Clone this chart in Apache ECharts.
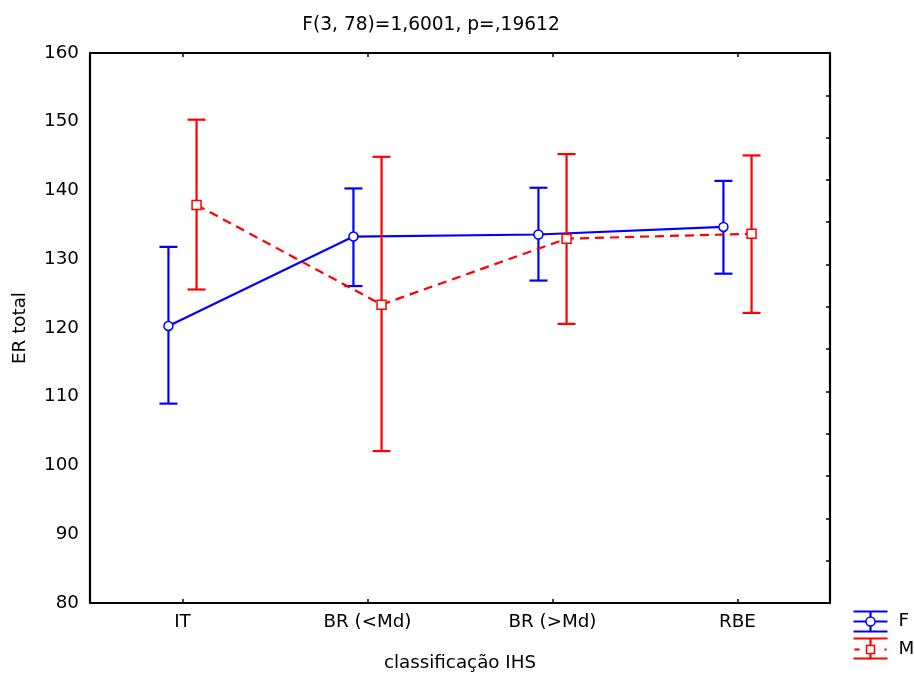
<!DOCTYPE html>
<html>
<head>
<meta charset="utf-8">
<script src="https://cdn.jsdelivr.net/npm/echarts@6/dist/echarts.min.js"></script>
<style>html,body{margin:0;padding:0;background:#fff;}#c{width:914px;height:677px;}</style>
</head>
<body>
<div id="c"></div>
<script>
const categories = ['IT', 'BR (<Md)', 'BR (>Md)', 'RBE'];
const fMean = [120.3, 133.3, 133.6, 134.7];
const fLow  = [109.0, 126.1, 126.9, 127.9];
const fHigh = [131.8, 140.3, 140.4, 141.4];
const mMean = [137.9, 123.4, 133.0, 133.7];
const mLow  = [125.6, 102.1, 120.6, 122.2];
const mHigh = [150.3, 144.9, 145.3, 145.1];
const yTicks = { min: 80, max: 160, interval: 10 };
const titleText = 'F(3, 78)=1,6001, p=,19612';
const xName = 'classificação IHS';
const yName = 'ER total';
const groupNames = ['F', 'M'];

const FONT = 'DejaVu Sans';
const FS = 18.3;
const BLUE = '#0000ff', RED = '#ff0000';
const GROUP_SHIFT = 0.076; // horizontal shift of each group within a category band

function xPos(i, g) { return i + (g === 0 ? -GROUP_SHIFT : GROUP_SHIFT); }

function errData(low, high, g) {
  return categories.map((c, i) => [xPos(i, g), low[i], high[i]]);
}
function lineData(mean, g) {
  return categories.map((c, i) => [xPos(i, g), mean[i]]);
}
function errRender(color) {
  return function (params, api) {
    const x = api.value(0);
    const lo = api.coord([x, api.value(1)]);
    const hi = api.coord([x, api.value(2)]);
    const half = 9;
    const st = { stroke: color, lineWidth: 2.2 };
    return {
      type: 'group',
      children: [
        { type: 'line', shape: { x1: lo[0], y1: lo[1], x2: hi[0], y2: hi[1] }, style: st },
        { type: 'line', shape: { x1: lo[0] - half, y1: lo[1], x2: lo[0] + half, y2: lo[1] }, style: st },
        { type: 'line', shape: { x1: hi[0] - half, y1: hi[1], x2: hi[0] + half, y2: hi[1] }, style: st }
      ]
    };
  };
}

const chart = echarts.init(document.getElementById('c'), null, { renderer: 'canvas' });
const axisLineStyle = { color: '#000', width: 2.2 };

chart.setOption({
  backgroundColor: '#fff',
  animation: false,
  title: {
    text: titleText,
    left: 426,
    top: 11,
    textAlign: 'center',
    textStyle: { fontFamily: FONT, fontSize: 18.6, fontWeight: 'normal', color: '#000' }
  },
  grid: { left: 90, right: 84, top: 53, bottom: 71, containLabel: false },
  xAxis: [
    {
      type: 'category', data: categories, position: 'bottom', boundaryGap: true,
      axisLine: { show: true, onZero: false, lineStyle: axisLineStyle },
      axisTick: { show: true, inside: true, alignWithLabel: true, length: 4, lineStyle: { color: '#000', width: 1.5 } },
      axisLabel: { fontFamily: FONT, fontSize: FS, color: '#000', margin: 10 },
      name: xName, nameLocation: 'middle', nameGap: 51,
      nameTextStyle: { fontFamily: FONT, fontSize: FS, color: '#000' },
      splitLine: { show: false }
    },
    {
      type: 'category', data: categories, position: 'top', boundaryGap: true,
      axisLine: { show: true, onZero: false, lineStyle: axisLineStyle },
      axisTick: { show: true, inside: true, alignWithLabel: true, length: 4, lineStyle: { color: '#000', width: 1.5 } },
      axisLabel: { show: false },
      splitLine: { show: false }
    },
    {
      type: 'value', min: -0.5, max: 3.5, show: false, splitLine: { show: false },
      axisLine: { show: false, onZero: false }
    }
  ],
  yAxis: [
    {
      type: 'value', position: 'left', min: yTicks.min, max: yTicks.max, interval: yTicks.interval,
      axisLine: { show: true, onZero: false, lineStyle: axisLineStyle },
      axisTick: { show: false },
      axisLabel: { fontFamily: FONT, fontSize: FS, color: '#000', margin: 11 },
      splitLine: { show: false },
      name: yName, nameLocation: 'middle', nameGap: 61, nameRotate: 90,
      nameTextStyle: { fontFamily: FONT, fontSize: FS, color: '#000' }
    },
    {
      type: 'value', position: 'right', min: 0, max: 13, interval: 1,
      axisLine: { show: true, onZero: false, lineStyle: axisLineStyle },
      axisTick: { show: true, inside: true, length: 4, lineStyle: { color: '#000', width: 1.5 } },
      axisLabel: { show: false },
      splitLine: { show: false }
    }
  ],
  series: [
    {
      name: 'F-err', type: 'custom', xAxisIndex: 2, yAxisIndex: 0,
      renderItem: errRender(BLUE), data: errData(fLow, fHigh, 0), z: 2,
      encode: { x: 0, y: [1, 2] }, silent: true
    },
    {
      name: groupNames[0], type: 'line', xAxisIndex: 2, yAxisIndex: 0,
      data: lineData(fMean, 0), z: 3,
      lineStyle: { color: BLUE, width: 2.2 },
      symbol: 'circle', symbolSize: 9,
      itemStyle: { color: '#fff', borderColor: BLUE, borderWidth: 1.5 }
    },
    {
      name: 'M-err', type: 'custom', xAxisIndex: 2, yAxisIndex: 0,
      renderItem: errRender(RED), data: errData(mLow, mHigh, 1), z: 4,
      encode: { x: 0, y: [1, 2] }, silent: true
    },
    {
      name: groupNames[1], type: 'line', xAxisIndex: 2, yAxisIndex: 0,
      data: lineData(mMean, 1), z: 5,
      lineStyle: { color: RED, width: 2.2, type: [9, 6] },
      symbol: 'rect', symbolSize: 9,
      itemStyle: { color: '#fff', borderColor: RED, borderWidth: 1.5 }
    }
  ],
  graphic: [
    {
      type: 'group', left: 851, top: 609,
      children: [
        { type: 'line', shape: { x1: 0, y1: 1, x2: 34, y2: 1 }, style: { stroke: BLUE, lineWidth: 2.2 } },
        { type: 'line', shape: { x1: 0, y1: 11, x2: 34, y2: 11 }, style: { stroke: BLUE, lineWidth: 2.2 } },
        { type: 'line', shape: { x1: 0, y1: 21, x2: 34, y2: 21 }, style: { stroke: BLUE, lineWidth: 2.2 } },
        { type: 'line', shape: { x1: 17, y1: 1, x2: 17, y2: 21 }, style: { stroke: BLUE, lineWidth: 2.2 } },
        { type: 'circle', shape: { cx: 17, cy: 11, r: 4.5 }, style: { fill: '#fff', stroke: BLUE, lineWidth: 1.5 } },
        { type: 'text', x: 45, y: 11, style: { text: groupNames[0], fontFamily: FONT, fontSize: FS, fill: '#000', verticalAlign: 'middle' } },

        { type: 'line', shape: { x1: 0, y1: 28, x2: 34, y2: 28 }, style: { stroke: RED, lineWidth: 2.2 } },
        { type: 'line', shape: { x1: 0, y1: 48, x2: 34, y2: 48 }, style: { stroke: RED, lineWidth: 2.2 } },
        { type: 'line', shape: { x1: 17, y1: 28, x2: 17, y2: 48 }, style: { stroke: RED, lineWidth: 2.2 } },
        { type: 'line', shape: { x1: 1, y1: 39, x2: 6, y2: 39 }, style: { stroke: RED, lineWidth: 2.2 } },
        { type: 'line', shape: { x1: 31, y1: 39, x2: 33, y2: 39 }, style: { stroke: RED, lineWidth: 2.2 } },
        { type: 'rect', shape: { x: 13, y: 35, width: 8, height: 8 }, style: { fill: '#fff', stroke: RED, lineWidth: 1.5 } },
        { type: 'text', x: 45, y: 39, style: { text: groupNames[1], fontFamily: FONT, fontSize: FS, fill: '#000', verticalAlign: 'middle' } }
      ]
    }
  ]
});
</script>
</body>
</html>
